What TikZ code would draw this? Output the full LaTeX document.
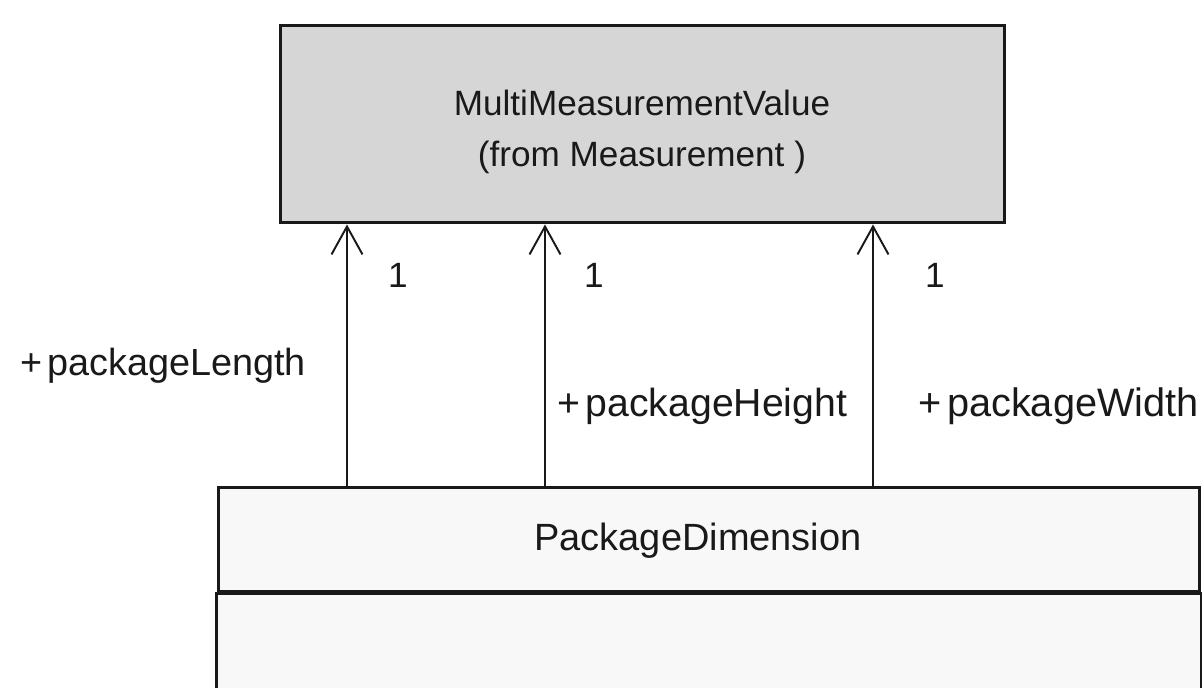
\documentclass[tikz,border=0pt]{standalone}
\usepackage{fontspec}
\setmainfont{Liberation Sans}
\usetikzlibrary{arrows.meta,calc}
\definecolor{mmfill}{RGB}{214,214,214}
\definecolor{pdfill}{RGB}{248,248,248}
\definecolor{ink}{RGB}{25,25,25}
\newcommand{\plusgap}{+\hspace{0.14em}}
\tikzset{
  classbox/.style={draw=ink, line width=1.7pt, inner sep=0pt},
  assoc/.style={draw=ink, line width=1.1pt, -{Straight Barb[length=0.56cm,width=0.62cm,line width=1.1pt]}},
  lbl/.style={font=\fontsize{20}{24}\selectfont, text=ink, inner sep=0pt},
  biglbl/.style={lbl, font=\fontsize{21.6}{26}\selectfont},
}
\begin{document}
\begin{tikzpicture}[x=0.02cm,y=-0.02cm]
\useasboundingbox (0,0) rectangle (1202,688);
\clip (0,0) rectangle (1202,688);
\fill[white] (0,0) rectangle (1202,688);
% top class
\node[classbox, fill=mmfill, minimum width=14.5cm, minimum height=3.96cm] (mm) at (642.5,124) {};
\node[lbl] (mmname) at (642,103) {MultiMeasurementValue};
\node[lbl] (mmfrom) at (642,157) {(from Measurement )};
% bottom class
\node[classbox, fill=pdfill, minimum width=19.64cm, minimum height=2.1cm] (pd) at (709,539.5) {};
\node[biglbl] (pdname) at (698,541) {PackageDimension};
\path[classbox, fill=pdfill] (pd.south west) rectangle ($(pd.south east)+(0,150)$);
% arrows
\coordinate (x1) at (347,0);
\coordinate (x2) at (545,0);
\coordinate (x3) at (873,0);
\draw[assoc] (pd.north -| x1) -- (mm.south -| x1);
\draw[assoc] (pd.north -| x2) -- (mm.south -| x2);
\draw[assoc] (pd.north -| x3) -- (mm.south -| x3);
% multiplicities
\node[lbl] (m1) at (398,275) {1};
\node[lbl] (m2) at (594,275) {1};
\node[lbl] (m3) at (935,275) {1};
% role names
\node[lbl, anchor=west, font=\fontsize{21.5}{26}\selectfont] (r1) at (20,366) {\plusgap packageLength};
\node[biglbl, anchor=west, font=\fontsize{22.3}{26}\selectfont] (r2) at (557,406) {\plusgap packageHeight};
\node[biglbl, anchor=west, font=\fontsize{22.6}{26}\selectfont] (r3) at (918,406) {\plusgap packageWidth};
\end{tikzpicture}
\end{document}
